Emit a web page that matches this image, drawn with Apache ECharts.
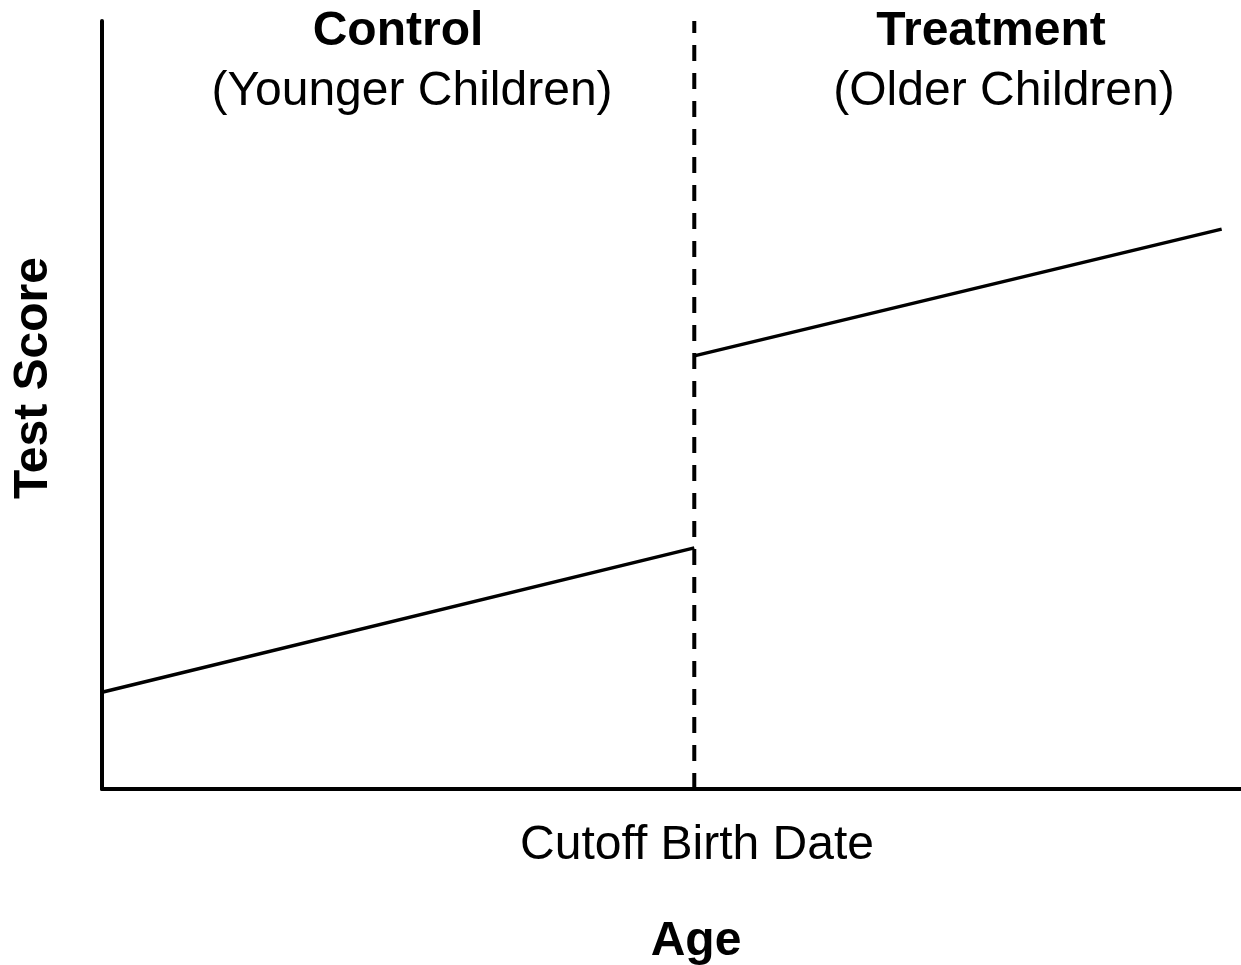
<!DOCTYPE html>
<html>
<head>
<meta charset="utf-8">
<script src="https://cdn.jsdelivr.net/npm/echarts@6/dist/echarts.min.js"></script>
<style>
  html, body { margin: 0; padding: 0; background: #fff; }
  #chartDom { width: 1241px; height: 965px; }
</style>
</head>
<body>
<div id="chartDom"></div>
<script>
// data (abstract units, axes 0..100)
const cutoffAge = 52.0;
const controlAge = [0, 52.0];
const controlScore = [12.6, 31.4];
const treatAge = [52.0, 98.3];
const treatScore = [56.4, 72.9];

const groupTitles = ['Control', 'Treatment'];
const groupNotes = ['(Younger Children)', '(Older Children)'];
const cutoffLabel = 'Cutoff Birth Date';
const xName = 'Age';
const yName = 'Test Score';

const FONT = 'Liberation Sans, Arial, Helvetica, sans-serif';

const chart = echarts.init(document.getElementById('chartDom'));

const toPairs = (xs, ys) => xs.map((x, i) => [x, ys[i]]);

function txt(x, y, text, bold, rotation) {
  return {
    type: 'text',
    x: x,
    y: y,
    rotation: rotation || 0,
    style: {
      text: text,
      fill: '#000',
      font: (bold ? 'bold ' : '') + '48px ' + FONT,
      align: 'center',
      verticalAlign: 'middle'
    }
  };
}

chart.setOption({
  animation: false,
  backgroundColor: '#fff',
  grid: { left: 102, right: 0, top: 21, bottom: 176 },
  xAxis: {
    type: 'value',
    min: 0,
    max: 100,
    axisLine: { show: true, onZero: false, lineStyle: { color: '#000', width: 4 } },
    axisTick: { show: false },
    axisLabel: { show: false },
    splitLine: { show: false }
  },
  yAxis: {
    type: 'value',
    min: 0,
    max: 100,
    axisLine: { show: true, onZero: false, lineStyle: { color: '#000', width: 4 } },
    axisTick: { show: false },
    axisLabel: { show: false },
    splitLine: { show: false }
  },
  series: [
    {
      type: 'line',
      data: [[cutoffAge, 0], [cutoffAge, 100]],
      symbol: 'none',
      lineStyle: { color: '#000', width: 4, type: [16, 12] }
    },
    {
      type: 'line',
      data: toPairs(controlAge, controlScore),
      symbol: 'none',
      lineStyle: { color: '#000', width: 3.5 }
    },
    {
      type: 'line',
      data: toPairs(treatAge, treatScore),
      symbol: 'none',
      lineStyle: { color: '#000', width: 3.5 }
    }
  ],
  graphic: [
    txt(398, 32, groupTitles[0], true),
    txt(412, 92, groupNotes[0], false),
    txt(991, 32, groupTitles[1], true),
    txt(1004, 92, groupNotes[1], false),
    txt(697, 846, cutoffLabel, false),
    txt(696, 942, xName, true),
    txt(34, 378, yName, true, Math.PI / 2)
  ]
});
</script>
</body>
</html>
